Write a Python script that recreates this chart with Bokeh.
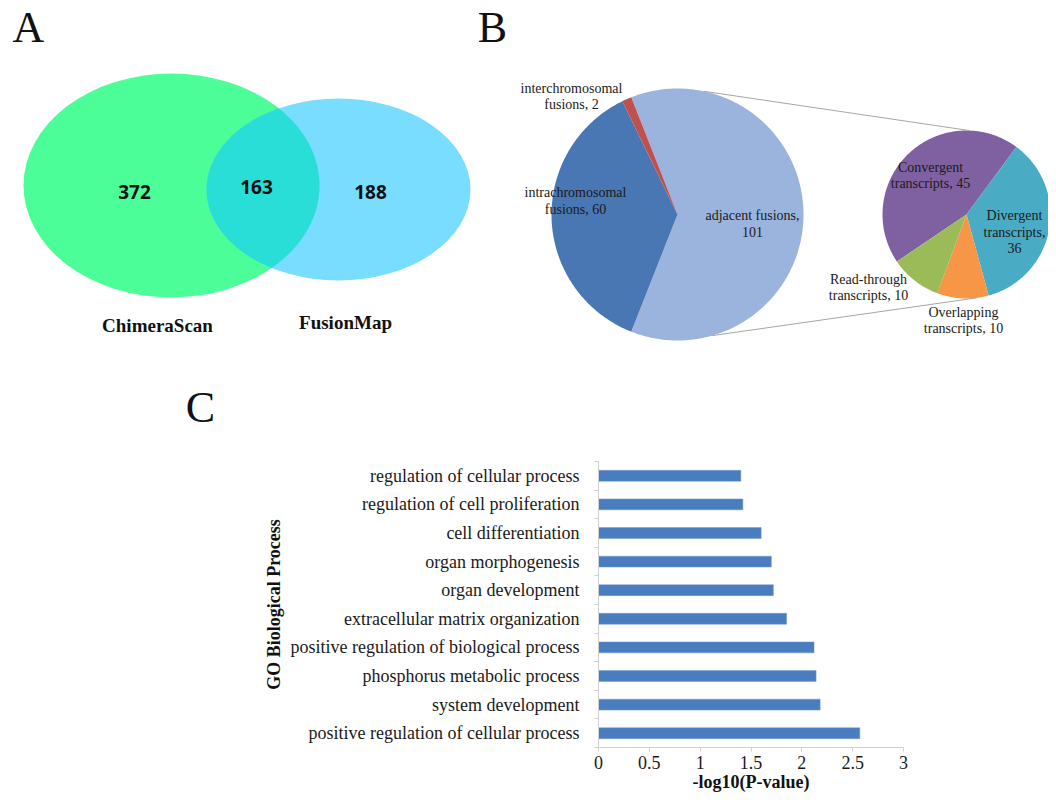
import numpy as np
from bokeh.plotting import figure
from bokeh.layouts import column
from bokeh.models import Range1d, FixedTicker, ColumnDataSource
from bokeh.core.properties import value
from bokeh.embed import file_html
from bokeh.resources import INLINE

# ---------------- data ----------------
# Panel A: Venn diagram
venn_sets = ["ChimeraScan", "FusionMap"]
venn_counts = [372, 163, 188]          # ChimeraScan only, both, FusionMap only

# Panel B: pie of pie
main_cats = ["adjacent fusions", "intrachromosomal fusions", "interchromosomal fusions"]
main_vals = [101, 60, 2]
sub_cats = ["Convergent transcripts", "Divergent transcripts",
            "Overlapping transcripts", "Read-through transcripts"]
sub_vals = [45, 36, 10, 10]

# Panel C: GO enrichment (listed bottom to top)
go_terms = ["positive regulation of cellular process", "system development",
            "phosphorus metabolic process", "positive regulation of biological process",
            "extracellular matrix organization", "organ development",
            "organ morphogenesis", "cell differentiation",
            "regulation of cell proliferation", "regulation of cellular process"]
go_vals = [2.57, 2.18, 2.14, 2.12, 1.85, 1.72, 1.70, 1.60, 1.42, 1.40]
x_ticks = [0, 0.5, 1, 1.5, 2, 2.5, 3]
x_tick_labels = ["0", "0.5", "1", "1.5", "2", "2.5", "3"]

# ---------------- layout constants ----------------
SERIF = value("Liberation Serif")
W, H = 1048, 795
H_TOP = 432
H_BOT = H - H_TOP

# ---------------- top figure (A, B and letter C) ----------------
top = figure(width=W, height=H_TOP, x_range=Range1d(0, W), y_range=Range1d(H_TOP, 0),
             x_axis_type=None, y_axis_type=None, output_backend="svg",
             toolbar_location=None, min_border=0)
top.frame_align = False
top.grid.visible = False
top.outline_line_color = None

# panel letters
top.text(x=[28, 492, 200], y=[27, 27, 407], text=["A", "B", "C"], text_font=SERIF,
         text_font_size="44px", text_align="center", text_baseline="middle", text_color="#111111")

# ---- Venn ----
E1 = (171, 185, 148, 112)   # cx, cy, rx, ry
E2 = (338, 189, 132, 91)
top.ellipse(x=[E1[0]], y=[E1[1]], width=[2 * E1[2]], height=[2 * E1[3]],
            fill_color="#4CFE98", line_color=None)
top.ellipse(x=[E2[0]], y=[E2[1]], width=[2 * E2[2]], height=[2 * E2[3]],
            fill_color="#78DDFE", line_color=None)


def ell_pts(cx, cy, rx, ry, n=1440):
    t = np.linspace(0, 2 * np.pi, n, endpoint=False)
    return cx + rx * np.cos(t), cy + ry * np.sin(t)


def inside(x, y, cx, cy, rx, ry):
    return ((x - cx) / rx) ** 2 + ((y - cy) / ry) ** 2 <= 1.0


x1, y1 = ell_pts(*E1)
x2, y2 = ell_pts(*E2)
m1 = inside(x1, y1, *E2)
m2 = inside(x2, y2, *E1)
px = np.concatenate([x1[m1], x2[m2]])
py = np.concatenate([y1[m1], y2[m2]])
ccx, ccy = px.mean(), py.mean()
order = np.argsort(np.arctan2(py - ccy, px - ccx))
top.patch(x=list(px[order]), y=list(py[order]), fill_color="#28DED6", line_color=None)

top.text(x=[134, 256, 370], y=[191, 186, 191], text=[str(v) for v in venn_counts],
         text_font=value("Open Sans"), text_font_style="bold", text_font_size="19px",
         text_align="center", text_baseline="middle", text_color="#111111")
top.text(x=[157, 345], y=[325, 322], text=venn_sets, text_font=SERIF,
         text_font_style="bold", text_font_size="19px", text_align="center",
         text_baseline="middle", text_color="#111111")


# ---- pies ----
def pie_patches(cx, cy, r, vals, start_deg):
    total = float(sum(vals))
    xs, ys = [], []
    a0 = np.radians(start_deg)
    for v in vals:
        span = 2 * np.pi * v / total
        t = np.linspace(a0, a0 - span, max(int(span * 80), 4))
        xs.append([cx] + list(cx + r * np.cos(t)))
        ys.append([cy] + list(cy - r * np.sin(t)))
        a0 -= span
    return xs, ys


BIG = (677, 214, 126)
SMALL = (966, 214, 84)
main_colors = ["#9BB4DD", "#4877B4", "#C0504D"]
sub_colors = ["#7F61A1", "#4AABC5", "#F79646", "#9BBB59"]

bx, by = pie_patches(*BIG, main_vals, 180.0 * main_vals[0] / sum(main_vals))
top.patches(xs=bx, ys=by, fill_color=main_colors, line_color=None)
sx, sy = pie_patches(*SMALL, sub_vals, 214.0)
top.patches(xs=sx, ys=sy, fill_color=sub_colors, line_color=None)


def on_circle(c, deg):
    return c[0] + c[2] * np.cos(np.radians(deg)), c[1] - c[2] * np.sin(np.radians(deg))


for a_big, a_small in [(78, 88), (-74, -83)]:
    p0 = on_circle(BIG, a_big)
    p1 = on_circle(SMALL, a_small)
    top.line(x=[p0[0], p1[0]], y=[p0[1], p1[1]], line_color="#A6A6A6", line_width=1)


def words(name):
    a, b = name.split(" ", 1)
    return a, b


main_labels = [
    "{0} {1},\n{2}".format(*words(main_cats[0]), main_vals[0]),
    "{0}\n{1}, {2}".format(*words(main_cats[1]), main_vals[1]),
    "{0}\n{1}, {2}".format(*words(main_cats[2]), main_vals[2]),
]
sub_labels = [
    "{0}\n{1}, {2}".format(*words(sub_cats[0]), sub_vals[0]),
    "{0}\n{1},\n{2}".format(*words(sub_cats[1]), sub_vals[1]),
    "{0}\n{1}, {2}".format(*words(sub_cats[2]), sub_vals[2]),
    "{0}\n{1}, {2}".format(*words(sub_cats[3]), sub_vals[3]),
]
top.text(x=[752, 575, 571, 930, 1014, 963, 868],
         y=[223.5, 200.5, 96, 175, 231.5, 320, 287],
         text=main_labels + sub_labels, text_font=SERIF, text_font_size="14px",
         text_align="center", text_baseline="middle", text_line_height=1.1,
         text_color="#1A1A1A")

# ---------------- bottom figure (C bars) ----------------
centers = [i + 0.5 for i in range(len(go_terms))]
src = ColumnDataSource(dict(y=centers, v=go_vals, term=go_terms))

bot = figure(width=W, height=H_BOT, x_range=Range1d(0, 3), y_range=Range1d(0, len(go_terms)),
             output_backend="svg", toolbar_location=None,
             min_border_left=598, min_border_right=W - 903,
             min_border_top=461 - H_TOP, min_border_bottom=H - 747)
bot.frame_align = False
bot.grid.visible = False
bot.outline_line_color = None
bot.hbar(y="y", left=0, right="v", height=0.38, source=src,
         fill_color="#4A7DC0", line_color="#6F98CF", line_width=0.5)

xa = bot.xaxis[0]
xa.ticker = FixedTicker(ticks=x_ticks)
xa.major_label_overrides = {t: l for t, l in zip(x_ticks, x_tick_labels)}
xa.minor_tick_line_color = None
xa.major_tick_out = 4
xa.major_tick_in = 0
xa.major_tick_line_color = "#D0D0D0"
xa.axis_line_color = "#D0D0D0"
xa.major_label_standoff = 4
xa.major_label_text_font = "Liberation Serif"
xa.major_label_text_font_size = "18px"
xa.major_label_text_color = "#1A1A1A"
xa.axis_label = "-log10(P-value)"
xa.axis_label_text_font = "Liberation Serif"
xa.axis_label_text_font_size = "18px"
xa.axis_label_text_font_style = "bold"
xa.axis_label_text_color = "#111111"
xa.axis_label_standoff = 0

ya = bot.yaxis[0]
ya.ticker = FixedTicker(ticks=centers, minor_ticks=list(range(len(go_terms) + 1)))
ya.major_label_overrides = {c: t for c, t in zip(centers, go_terms)}
ya.major_tick_out = 0
ya.major_tick_in = 0
ya.minor_tick_out = 4
ya.minor_tick_in = 0
ya.minor_tick_line_color = "#D0D0D0"
ya.axis_line_color = "#D0D0D0"
ya.major_label_standoff = 15
ya.major_label_text_font = "Liberation Serif"
ya.major_label_text_font_size = "18px"
ya.major_label_text_color = "#1A1A1A"
ya.axis_label = "GO Biological Process"
ya.axis_label_text_font = "Liberation Serif"
ya.axis_label_text_font_size = "18px"
ya.axis_label_text_font_style = "bold"
ya.axis_label_text_color = "#111111"
ya.axis_label_standoff = 4

layout = column(top, bot, spacing=0)
open("out.html", "w").write(file_html(layout, INLINE))
